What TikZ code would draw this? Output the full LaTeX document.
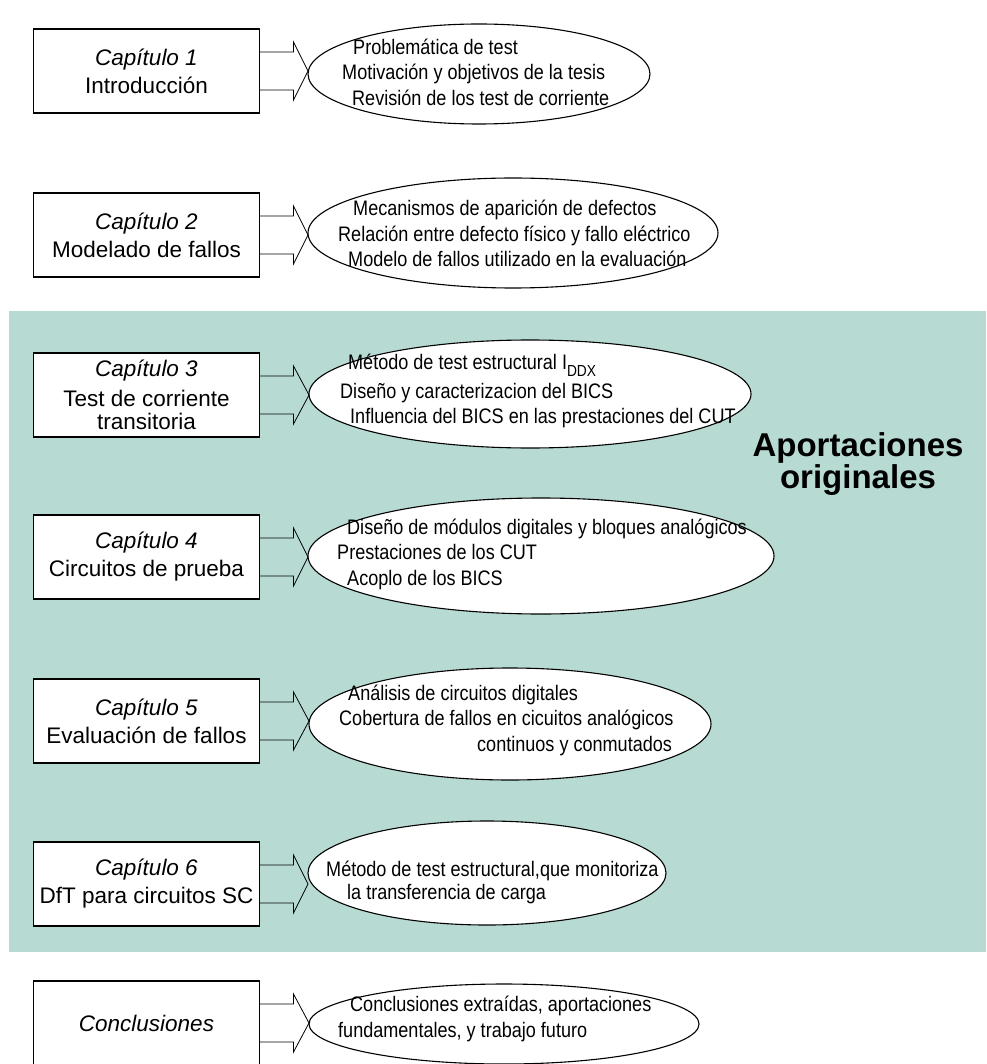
\documentclass[tikz,border=0pt]{standalone}
\usepackage{fontspec}
\setmainfont{Liberation Sans}
\newfontfamily\narrowsans[FakeStretch=0.86]{Liberation Sans}
\usepackage{xcolor}
\usepackage{tikz}
\usetikzlibrary{shapes, positioning}
\definecolor{aporte}{RGB}{183,219,211}
\tikzset{
	chapbox/.style={draw, line width=1.2pt, fill=white, minimum width=226pt, minimum height=84pt,
		align=center, inner sep=0pt, outer sep=0pt, font=\fontsize{22.5}{28}\selectfont},
	topic/.style={draw, ellipse, fill=white, line width=1.1pt, inner sep=0pt, outer sep=0pt},
	topictext/.style={anchor=west, align=left, inner sep=0pt,
		font=\narrowsans\fontsize{21}{25.5}\selectfont},
	shaft/.style={line width=0.8pt}
}

\begin{document}
\begin{tikzpicture}[x=1pt, y=-1pt]
				\useasboundingbox (0,0) rectangle (986,1064);
				\clip (0,0) rectangle (986,1064);
				\fill[aporte] (9,311) rectangle (986,952);
				
				% capitulos
				\node[chapbox] (b1) at (146.5,71) {\textit{Capítulo 1}\\Introducción};
				\node[chapbox] (b2) at (146.5,235) {\textit{Capítulo 2}\\Modelado de fallos};
				\node[chapbox, font=\fontsize{22.5}{23}\selectfont] (b3) at (146.5,395)
				{\textit{Capítulo 3}\\[7pt]Test de corriente\\transitoria};
				\node[chapbox] (b4) at (146.5,557) {\textit{Capítulo 4}\\Circuitos de prueba};
				\node[chapbox] (b5) at (146.5,721) {\textit{Capítulo 5}\\Evaluación de fallos};
				\node[chapbox] (b6) at (146.5,884) {\textit{Capítulo 6}\\DfT para circuitos SC};
				\node[chapbox] (b7) at (146.5,1023) {\textit{Conclusiones}};
				
				% contenidos
				\node[topic, minimum width=342pt, minimum height=100pt] (e1) at (479,74) {};
				\node[topic, minimum width=410pt, minimum height=110pt] (e2) at (513,233) {};
				\node[topic, minimum width=442pt, minimum height=108pt] (e3) at (530,394) {};
				\node[topic, minimum width=466pt, minimum height=116pt] (e4) at (541,556) {};
				\node[topic, minimum width=402pt, minimum height=112pt] (e5) at (510,724) {};
				\node[topic, minimum width=358pt, minimum height=104pt] (e6) at (487,873) {};
				\node[topic, minimum width=390pt, minimum height=80pt] (e7) at (504,1024) {};
				
				\node[topictext] (t1) at (342,72) {\hspace*{11pt}Problemática de test\\
					Motivación y objetivos de la tesis\\
					\hspace*{10pt}Revisión de los test de corriente};
				\node[topictext] (t2) at (338,233.5) {\hspace*{15pt}Mecanismos de aparición de defectos\\
					Relación entre defecto físico y fallo eléctrico\\
					\hspace*{10pt}Modelo de fallos utilizado en la evaluación};
				\node[topictext] (t3) at (340,391) {\hspace*{8pt}Método de test estructural I\raisebox{-7pt}{\fontsize{16}{16}\selectfont DDX}\\[3pt]
					Diseño y caracterizacion del BICS\\
					\hspace*{10pt}Influencia del BICS en las prestaciones del CUT};
				\node[topictext] (t4) at (337,554) {\hspace*{10pt}Diseño de módulos digitales y bloques analógicos\\
					Prestaciones de los CUT\\
					\hspace*{10pt}Acoplo de los BICS};
				\node[topictext] (t5) at (339,720) {\hspace*{9pt}Análisis de circuitos digitales\\
					Cobertura de fallos en cicuitos analógicos\\
					\hspace*{138pt}continuos y conmutados};
				\node[topictext, font=\narrowsans\fontsize{21}{23}\selectfont] (t6) at (326,882)
				{Método de test estructural,que monitoriza\\
					\hspace*{21pt}la transferencia de carga};
				\node[topictext] (t7) at (338,1019) {\hspace*{12pt}Conclusiones extraídas, aportaciones\\
					fundamentales, y trabajo futuro};
				
				\node[font=\fontsize{33}{32}\selectfont\bfseries, align=center, inner sep=0pt] (ap) at (858,464)
				{Aportaciones\\originales};
				
				% flechas
				\draw[shaft] ([shift={(0,-19)}]b1.east) -- ++(34,0) -- ++(0,-10) -- (e1.west |- b1.east)
				-- ([shift={(34,29)}]b1.east) -- ++(0,-10) -- ++(-34,0);
				\draw[shaft] ([shift={(0,-19)}]b2.east) -- ++(34,0) -- ++(0,-10) -- (e2.west |- b2.east)
				-- ([shift={(34,29)}]b2.east) -- ++(0,-10) -- ++(-34,0);
				\draw[shaft] ([shift={(0,-19)}]b3.east) -- ++(34,0) -- ++(0,-10) -- (e3.west |- b3.east)
				-- ([shift={(34,29)}]b3.east) -- ++(0,-10) -- ++(-34,0);
				\draw[shaft] ([shift={(0,-19)}]b4.east) -- ++(34,0) -- ++(0,-10) -- (e4.west |- b4.east)
				-- ([shift={(34,29)}]b4.east) -- ++(0,-10) -- ++(-34,0);
				\draw[shaft] ([shift={(0,-19)}]b5.east) -- ++(34,0) -- ++(0,-10) -- (e5.west |- b5.east)
				-- ([shift={(34,29)}]b5.east) -- ++(0,-10) -- ++(-34,0);
				\draw[shaft] ([shift={(0,-19)}]b6.east) -- ++(34,0) -- ++(0,-10) -- (e6.west |- b6.east)
				-- ([shift={(34,29)}]b6.east) -- ++(0,-10) -- ++(-34,0);
				\draw[shaft] ([shift={(0,-19)}]b7.east) -- ++(34,0) -- ++(0,-10) -- (e7.west |- b7.east)
				-- ([shift={(34,29)}]b7.east) -- ++(0,-10) -- ++(-34,0);
			\end{tikzpicture}
\end{document}
